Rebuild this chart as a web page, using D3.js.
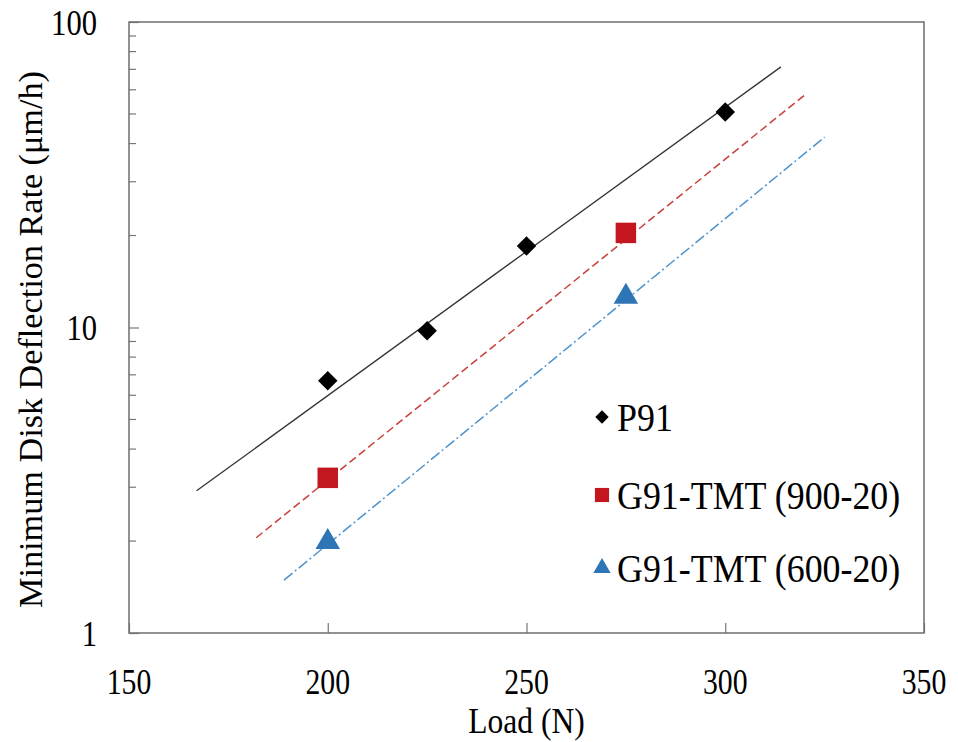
<!DOCTYPE html>
<html>
<head>
<meta charset="utf-8">
<script src="https://cdn.jsdelivr.net/npm/d3@7"></script>
<style>
  body { margin: 0; background: #fff; }
</style>
</head>
<body>
<div id="chart"></div>
<script>
// Data
const seriesNames = ["P91", "G91-TMT (900-20)", "G91-TMT (600-20)"];
const p91Load = [200, 225, 250, 300];
const p91Rate = [6.7, 9.75, 18.5, 50.7];
const g900Load = [200, 275];
const g900Rate = [3.22, 20.4];
const g600Load = [200, 275];
const g600Rate = [2.0, 12.7];
// trend line end points (load, rate)
const p91Fit = [[167, 2.92], [314, 71.3]];
const g900Fit = [[182, 2.05], [320, 57.7]];
const g600Fit = [[189, 1.49], [325, 42.0]];
const xTicks = [150, 200, 250, 300, 350];
const yTicks = [1, 10, 100];

const FONT = "'Liberation Serif', 'Times New Roman', Times, serif";

function init() {
    const width = 958;
    const height = 742;

    const svg = d3.select("#chart")
        .append("svg")
        .attr("width", width)
        .attr("height", height)
        .attr("font-family", FONT);

    const x = d3.scaleLinear().domain([150, 350]).range([129, 924]);
    const y = d3.scaleLog().domain([1, 100]).range([633, 22]);

    // minor ticks on log axis (inside)
    const minor = [];
    [1, 10].forEach(d => { for (let k = 2; k <= 9; k++) minor.push(d * k); });

    svg.append("g")
        .selectAll("line")
        .data(minor)
        .enter().append("line")
        .attr("x1", x(150)).attr("x2", x(150) + 7)
        .attr("y1", d => y(d)).attr("y2", d => y(d))
        .attr("stroke", "#777").attr("stroke-width", 1.2);

    // y axis, ticks inside
    const yAxis = d3.axisRight(y).tickValues(yTicks).tickSize(10).tickFormat("");
    svg.append("g")
        .attr("transform", `translate(${x(150)},0)`)
        .call(yAxis)
        .call(g => g.select(".domain").remove())
        .call(g => g.selectAll("line").attr("stroke", "#777").attr("stroke-width", 1.2));

    svg.append("g")
        .selectAll("text")
        .data(yTicks)
        .enter().append("text")
        .attr("transform", d => `translate(97,${y(d)}) scale(0.85,1)`)
        .attr("dy", "0.35em")
        .attr("text-anchor", "end")
        .attr("font-size", 36)
        .text(d => d);

    // x axis, ticks inside
    const xAxis = d3.axisTop(x).tickValues(xTicks).tickSize(10).tickFormat("");
    svg.append("g")
        .attr("transform", `translate(0,${y(1)})`)
        .call(xAxis)
        .call(g => g.select(".domain").remove())
        .call(g => g.selectAll("line").attr("stroke", "#777").attr("stroke-width", 1.2));

    svg.append("g")
        .selectAll("text")
        .data(xTicks)
        .enter().append("text")
        .attr("transform", d => `translate(${x(d)},682) scale(0.85,1)`)
        .attr("dy", "0.35em")
        .attr("text-anchor", "middle")
        .attr("font-size", 35)
        .text(d => d);

    // frame
    svg.append("rect")
        .attr("x", x(150)).attr("y", y(100))
        .attr("width", x(350) - x(150))
        .attr("height", y(1) - y(100))
        .attr("fill", "none")
        .attr("stroke", "#6e6e6e")
        .attr("stroke-width", 1.5);

    // axis titles
    svg.append("text")
        .attr("transform", `translate(${x(250)},721) scale(0.9,1)`)
        .attr("dy", "0.35em")
        .attr("text-anchor", "middle")
        .attr("font-size", 35)
        .text("Load (N)");

    svg.append("text")
        .attr("transform", `translate(30,${(y(1) + y(100)) / 2 + 12}) rotate(-90) scale(0.9,0.87)`)
        .attr("dy", "0.35em")
        .attr("text-anchor", "middle")
        .attr("font-size", 38)
        .text("Minimum Disk Deflection Rate (\u03bcm/h)");

    // trend lines
    const line = d3.line().x(d => x(d[0])).y(d => y(d[1]));
    svg.append("path").datum(p91Fit).attr("d", line)
        .attr("fill", "none").attr("stroke", "#333").attr("stroke-width", 1.3);
    svg.append("path").datum(g900Fit).attr("d", line)
        .attr("fill", "none").attr("stroke", "#c8403c").attr("stroke-width", 1.5)
        .attr("stroke-dasharray", "8,4");
    svg.append("path").datum(g600Fit).attr("d", line)
        .attr("fill", "none").attr("stroke", "#4f93cc").attr("stroke-width", 1.5)
        .attr("stroke-dasharray", "11,3,2,3");

    // markers
    const diamond = d3.symbol().type(d3.symbolSquare).size(190);
    const square = d3.symbol().type(d3.symbolSquare).size(420);
    const triangle = d3.symbol().type(d3.symbolTriangle).size(260);

    svg.append("g").selectAll("path")
        .data(p91Load.map((d, i) => [d, p91Rate[i]]))
        .enter().append("path")
        .attr("d", diamond)
        .attr("transform", d => `translate(${x(d[0])},${y(d[1])}) rotate(45)`)
        .attr("fill", "#000");

    svg.append("g").selectAll("path")
        .data(g900Load.map((d, i) => [d, g900Rate[i]]))
        .enter().append("path")
        .attr("d", square)
        .attr("transform", d => `translate(${x(d[0])},${y(d[1])})`)
        .attr("fill", "#c4161f");

    svg.append("g").selectAll("path")
        .data(g600Load.map((d, i) => [d, g600Rate[i]]))
        .enter().append("path")
        .attr("d", triangle)
        .attr("transform", d => `translate(${x(d[0])},${y(d[1]) + 1})`)
        .attr("fill", "#2e75b6");

    // legend
    const legendY = [417, 495, 568];
    const legendSymbols = [
        { d: d3.symbol().type(d3.symbolSquare).size(90)(), rot: 45, fill: "#000" },
        { d: d3.symbol().type(d3.symbolSquare).size(200)(), rot: 0, fill: "#c4161f" },
        { d: d3.symbol().type(d3.symbolTriangle).size(130)(), rot: 0, fill: "#2e75b6" }
    ];
    const legend = svg.append("g").attr("class", "legend");
    legend.selectAll("path")
        .data(legendSymbols)
        .enter().append("path")
        .attr("d", d => d.d)
        .attr("transform", (d, i) => `translate(602,${legendY[i]}) rotate(${d.rot})`)
        .attr("fill", d => d.fill);
    legend.selectAll("text")
        .data(seriesNames)
        .enter().append("text")
        .attr("transform", (d, i) => `translate(617,${legendY[i]}) scale(0.875,1)`)
        .attr("dy", "0.35em")
        .attr("font-size", 41)
        .text(d => d);
}
window.onload = init;
</script>
</body>
</html>
